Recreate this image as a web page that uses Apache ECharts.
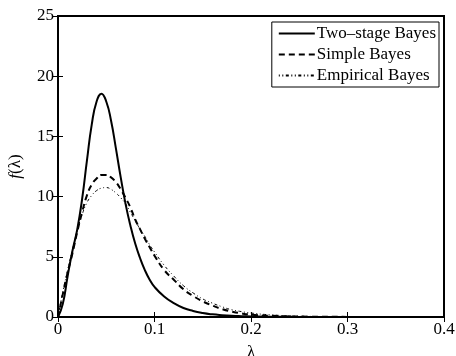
<!DOCTYPE html>
<html>
<head>
<meta charset="utf-8">
<script src="https://cdn.jsdelivr.net/npm/echarts@6/dist/echarts.min.js"></script>
<style>
  html, body { margin: 0; padding: 0; background: #fff; }
  #chart { width: 456px; height: 356px; }
</style>
</head>
<body>
<div id="chart"></div>
<script>
// lambda grid
var lambdas = [0, 0.005, 0.01, 0.015, 0.02, 0.025, 0.03, 0.035, 0.04, 0.045, 0.05,
  0.055, 0.06, 0.065, 0.07, 0.075, 0.08, 0.085, 0.09, 0.095, 0.1,
  0.11, 0.12, 0.13, 0.14, 0.15, 0.16, 0.17, 0.18, 0.19, 0.2,
  0.22, 0.25, 0.3, 0.35, 0.4]

var twoStage = [0, 1.1, 3.4, 5.5, 7.3, 9.8, 13.0, 16.0, 17.9, 18.55, 17.9,
  16.3, 14.0, 11.6, 9.4, 7.6, 6.1, 4.9, 3.9, 3.1, 2.5,
  1.7, 1.15, 0.75, 0.5, 0.33, 0.22, 0.15, 0.1, 0.07, 0.05,
  0.02, 0.01, 0, 0, 0]

var simple = [0, 1.9, 3.7, 5.3, 7.1, 8.7, 10.1, 11.0, 11.5, 11.8, 11.8,
  11.6, 11.2, 10.6, 9.9, 9.1, 8.1, 7.3, 6.5, 5.8, 5.1,
  3.9, 3.1, 2.3, 1.75, 1.3, 0.95, 0.65, 0.45, 0.3, 0.2,
  0.1, 0.04, 0.01, 0, 0]

var empirical = [0, 2.1, 3.9, 5.6, 7.2, 8.5, 9.5, 10.1, 10.5, 10.7, 10.75,
  10.6, 10.3, 9.9, 9.4, 8.7, 8.0, 7.3, 6.7, 6.0, 5.4,
  4.3, 3.4, 2.6, 2.0, 1.5, 1.15, 0.85, 0.6, 0.45, 0.33,
  0.18, 0.07, 0.02, 0.005, 0]

var seriesNames = ['Two\u2013stage Bayes', 'Simple Bayes', 'Empirical Bayes']

function pairs(ys) {
  return lambdas.map(function (x, i) { return [x, ys[i]] })
}

var font = 'Liberation Serif'
var fs = 17
var chart = echarts.init(document.getElementById('chart'))

var hiddenAxis = {
  type: 'value',
  axisLine: { show: false },
  axisTick: { show: true, inside: true, length: 5, lineStyle: { color: '#000' } },
  axisLabel: { show: false },
  splitLine: { show: false }
}

chart.setOption({
  animation: false,
  backgroundColor: '#fff',
  grid: {
    left: 58, right: 12, top: 16, bottom: 39,
    outerBoundsMode: 'none', containLabel: false,
    show: true, borderColor: '#000', borderWidth: 2, backgroundColor: 'transparent'
  },
  legend: {
    orient: 'vertical',
    right: 17,
    top: 22,
    data: seriesNames,
    itemWidth: 36,
    itemHeight: 14,
    itemGap: 4,
    padding: [3, 3, 3, 6],
    borderColor: '#000',
    borderWidth: 1,
    backgroundColor: '#fff',
    itemStyle: { opacity: 0 },
    textStyle: { fontFamily: font, fontSize: fs, lineHeight: 17, color: '#000', padding: [0, 0, 0, -3] }
  },
  xAxis: [
    {
      type: 'value', min: 0, max: 0.4, interval: 0.1,
      name: 'λ', nameLocation: 'middle', nameGap: 27,
      nameTextStyle: { fontFamily: font, fontSize: fs, color: '#000' },
      axisLine: { show: false },
      axisTick: { inside: true, length: 5, lineStyle: { color: '#000' } },
      axisLabel: { fontFamily: font, fontSize: fs, color: '#000', margin: 4,
        formatter: function (v) { return v === 0 ? '0' : String(+v.toFixed(1)) } },
      splitLine: { show: false }
    },
    Object.assign({ position: 'top', min: 0, max: 0.4, interval: 0.1 }, hiddenAxis)
  ],
  yAxis: [
    {
      type: 'value', min: 0, max: 25, interval: 5,
      name: '{i|f}(λ)', nameLocation: 'middle', nameGap: 34,
      nameTextStyle: { fontFamily: font, fontSize: fs, color: '#000',
        rich: { i: { fontFamily: font, fontSize: fs, fontStyle: 'italic', color: '#000' } } },
      axisLine: { show: false },
      axisTick: { inside: true, length: 5, lineStyle: { color: '#000' } },
      axisLabel: { fontFamily: font, fontSize: fs, color: '#000', margin: 4 },
      splitLine: { show: false }
    },
    Object.assign({ position: 'right', min: 0, max: 25, interval: 5 }, hiddenAxis)
  ],
  series: [
    {
      name: seriesNames[0], type: 'line', symbol: 'none', smooth: true,
      data: pairs(twoStage),
      lineStyle: { color: '#000', width: 2, type: 'solid' }
    },
    {
      name: seriesNames[1], type: 'line', symbol: 'none', smooth: true,
      data: pairs(simple),
      lineStyle: { color: '#000', width: 2, type: [6, 4] }
    },
    {
      name: seriesNames[2], type: 'line', symbol: 'none', smooth: true,
      data: pairs(empirical),
      lineStyle: { color: '#000', width: 1, type: [1, 2.5, 1, 2.5, 3, 2.5] }
    }
  ]
})
</script>
</body>
</html>
